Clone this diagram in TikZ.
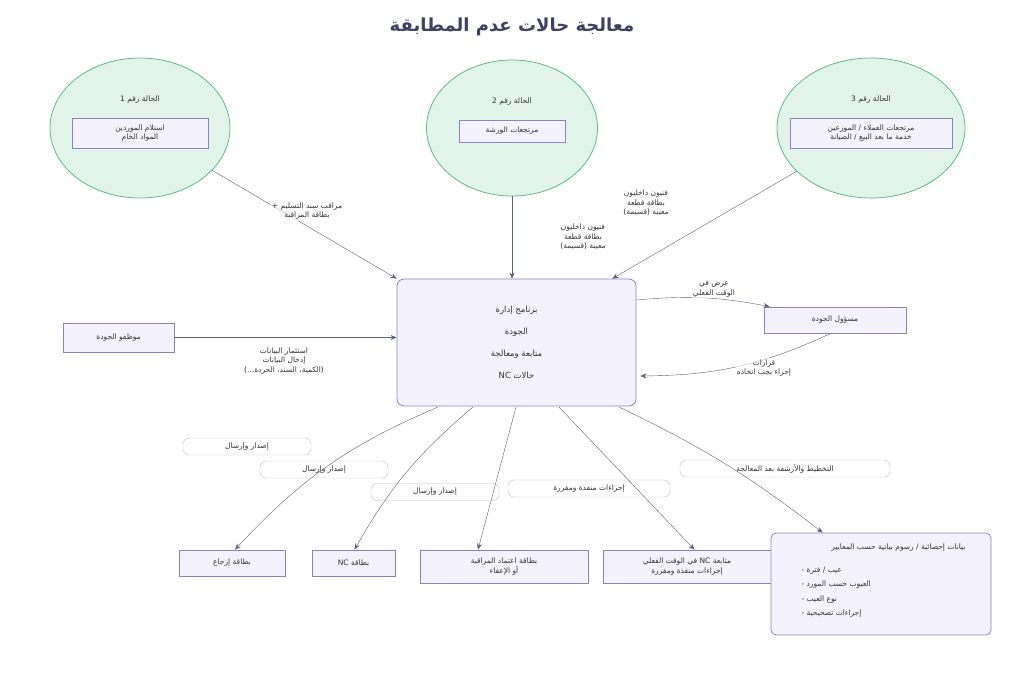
\documentclass[tikz,border=0pt]{standalone}
\usepackage{fontspec}
\setmainfont[Script=Arabic]{DejaVu Sans}
\usetikzlibrary{arrows.meta,shapes.geometric}
\TeXXeTstate=1
\newcommand\AR[1]{\beginR #1\endR}
\definecolor{edge}{HTML}{5A6078}
\definecolor{gfill}{HTML}{E2F4EA}
\definecolor{gline}{HTML}{62B58C}
\definecolor{pfill}{HTML}{F4F2FC}
\definecolor{pline}{HTML}{8C82C2}
\definecolor{txt}{HTML}{333333}
\begin{document}
\begin{tikzpicture}[x=1pt,y=-1pt,
  every node/.style={font=\fontsize{7.5}{9.5}\selectfont,text=txt},
  circ/.style={ellipse,draw=gline,fill=gfill,thick,inner sep=0},
  box/.style={draw=pline,fill=pfill,thick,align=center,inner sep=2pt},
  pill/.style={draw=black!25,fill=white,rounded corners=6pt,thin},
  lbl/.style={align=center,fill=white,fill opacity=0.6,text opacity=1,inner sep=1pt},
  arr/.style={draw=edge,-{Stealth[length=6pt,width=5pt]}}]
\useasboundingbox (0,0) rectangle (1024,683);
\node[font=\bfseries\fontsize{18}{20}\selectfont,text=black!75!blue!50!gray] (title) at (512,27) {\AR{معالجة حالات عدم المطابقة}};
% circles
\node[circ,minimum width=180,minimum height=140] (c1) at (140,128) {};
\node[circ,minimum width=171,minimum height=136] (c2) at (512,128) {};
\node[circ,minimum width=188,minimum height=140] (c3) at (871,128) {};
\node (c1t) at (140,100) {\AR{الحالة رقم 1}};
\node[box,minimum width=136,minimum height=30] (c1b) at (140,133) {\AR{استلام الموردين}\\\AR{المواد الخام}};
\node (c2t) at (512,102) {\AR{الحالة رقم 2}};
\node[box,minimum width=106,minimum height=22] (c2b) at (512,131) {\AR{مرتجعات الورشة}};
\node (c3t) at (871,100) {\AR{الحالة رقم 3}};
\node[box,minimum width=162,minimum height=30] (c3b) at (871,133) {\AR{مرتجعات العملاء / الموزعين}\\\AR{خدمة ما بعد البيع / الصيانة}};
% main
\node[box,rounded corners=7pt,minimum width=239,minimum height=127,font=\fontsize{8.5}{22}\selectfont] (main) at (516.5,342.5) {\AR{برنامج إدارة}\\\AR{الجودة}\\\AR{متابعة ومعالجة}\\\AR{حالات NC}};
\node[box,minimum width=111,minimum height=29] (staff) at (118.5,337.5) {\AR{موظفو الجودة}};
\node[box,minimum width=142,minimum height=26] (mgr) at (835,320) {\AR{مسؤول الجودة}};
% bottom
\node[box,minimum width=106,minimum height=26] (b1) at (232,563) {\AR{بطاقة إرجاع}};
\node[box,minimum width=83,minimum height=26] (b2) at (353.5,563) {\AR{بطاقة NC}};
\node[box,minimum width=168,minimum height=33] (b3) at (504,566.5) {\AR{بطاقة اعتماد المراقبة}\\\AR{أو الإعفاء}};
\node[box,minimum width=168,minimum height=33] (b4) at (687,566.5) {\AR{متابعة NC في الوقت الفعلي}\\\AR{إجراءات منفذة ومقررة}};
\node[box,rounded corners=5pt,minimum width=220,minimum height=102] (b5) at (881,584) {};
\node[anchor=east] (b5t) at (969,548) {\AR{بيانات إحصائية / رسوم بيانية حسب المعايير}};
\node[anchor=west,align=left,font=\fontsize{7.5}{14.5}\selectfont] (b5l) at (798,592) {- \AR{عيب / فترة}\\- \AR{العيوب حسب المورد}\\- \AR{نوع العيب}\\- \AR{إجراءات تصحيحية}};
% pills (under the connectors)
\node[pill,minimum width=128,minimum height=17] (p1) at (247,446.5) {\AR{إصدار وإرسال}};
\node[pill,minimum width=128,minimum height=17] (p2) at (324,469.5) {\AR{إصدار وإرسال}};
\node[pill,minimum width=128,minimum height=17] (p3) at (435,492) {\AR{إصدار وإرسال}};
\node[pill,minimum width=162,minimum height=17] (p4) at (589,488.5) {\AR{إجراءات منفذة ومقررة}};
\node[pill,minimum width=210,minimum height=17] (p5) at (785,468.5) {\AR{التخطيط والأرشفة بعد المعالجة}};
% arrows
\draw[arr] (c1) -- (main.north west);
\node[lbl] (l1) at (307,211) {\AR{مراقب سند التسليم +}\\\AR{بطاقة المراقبة}};
\draw[arr] (c2) -- (main.north -| c2) ;
\node[lbl] (l2) at (583,237) {\AR{فنيون داخليون}\\\AR{بطاقة قطعة}\\\AR{معيبة (قسيمة)}};
\draw[arr] (c3) -- ([xshift=-24pt]main.north east);
\node[lbl] (l3) at (646,203) {\AR{فنيون داخليون}\\\AR{بطاقة قطعة}\\\AR{معيبة (قسيمة)}};
\draw[arr] (staff) -- (main.west |- staff);
\node[lbl] (l4) at (284,361) {\AR{استثمار البيانات}\\\AR{إدخال البيانات}\\\AR{(الكمية، السند، الحردة...)}};
\draw[arr] (main.east |- 0,300) to[bend left=8] ([xshift=6pt]mgr.north west);
\node[lbl] (l5) at (714,289) {\AR{عرض في}\\\AR{الوقت الفعلي}};
\draw[arr] ([xshift=-4pt]mgr.south) to[bend left=12] ([xshift=4pt]main.east |- 0,376);
\node[lbl] (l6) at (764,368) {\AR{قرارات}\\\AR{إجراء يجب اتخاذه}};
\draw[arr] (438,407) to[bend right=12] ([xshift=3pt]b1.north);
\draw[arr] (473,407) to[bend right=10] ([xshift=1pt]b2.north);
\draw[arr] (516,407) -- ([xshift=-26pt]b3.north);
\draw[arr] (559,407) -- ([xshift=-77pt]b4.north east);
\draw[arr] (619,407) to[bend left=6] ([xshift=52pt]b5.north west);
\end{tikzpicture}
\end{document}
